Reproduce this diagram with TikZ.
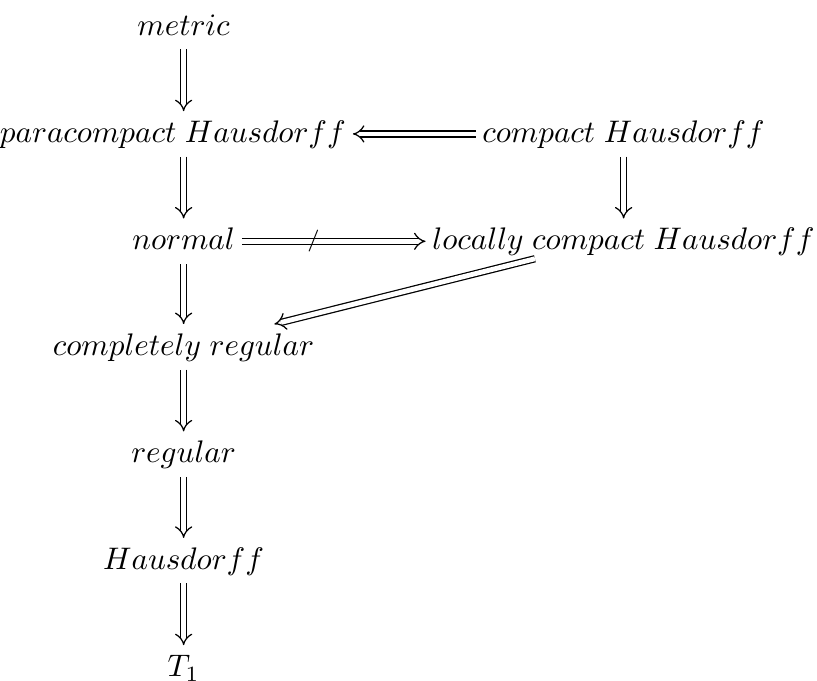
\documentclass[tikz,border=0pt]{standalone}
\usetikzlibrary{arrows}
\begin{document}
\begin{tikzpicture}[>=implies, every node/.style={text height=1.5ex, text depth=.25ex, inner xsep=2pt}, imp/.style={double equal sign distance,->}]
\useasboundingbox (0,0) rectangle (9.21,-7.675);
\node (met) at (2.07,-.30){$metric$};
\node (pc) at (1.95,-1.51){$paracompact\;Hausdorff$};
\node (ch) at (7.03,-1.51){$compact\;Hausdorff$};
\node (nor) at (2.07,-2.72){$normal$};
\node (lc) at (7.03,-2.72){$locally\;compact\;Hausdorff$};
\node (cr) at (2.07,-3.91){$completely\;regular$};
\node (reg) at (2.07,-5.12){$regular$};
\node (haus) at (2.07,-6.32){$Hausdorff$};
\node (t1) at (2.07,-7.53){$T_1$};
\draw[imp](met)--(met|-pc.north);
\draw[imp](pc.south-|nor)--(nor);
\foreach \a/\b in {nor/cr,cr/reg,reg/haus,haus/t1}
{
    \draw[imp](\a)--(\b);
}
\draw[imp](ch)--(pc);
\draw[imp](ch)--(lc);
\draw[imp](nor)--node[pos=.39, text height=, text depth=, inner sep=0]{$\scriptstyle/$}(lc);
\draw[imp]([shift={(-1cm,.06cm)}]lc.south)--(cr);
\end{tikzpicture}
\end{document}
